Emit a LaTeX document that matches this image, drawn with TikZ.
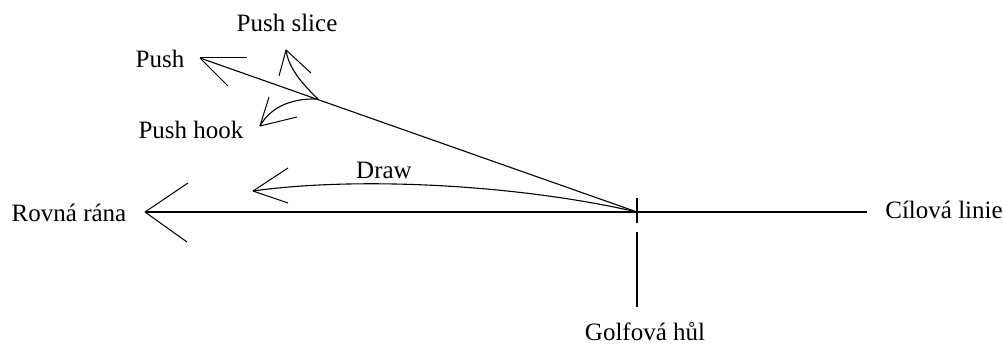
\documentclass[tikz,border=0pt]{standalone}
\usepackage{fontspec}
\setmainfont{Liberation Serif}
\usepackage{tikz}

\begin{document}
\begin{tikzpicture}[x=1pt, y=-1pt, line width=1.1pt,
    lbl/.style={inner sep=0pt, anchor=base, font=\fontsize{25}{30}\selectfont},
    barb/.style={line width=1pt}]
    \useasboundingbox (0,0) rectangle (1003,345);

    % points of the swing
    \coordinate (club) at (637,212);
    \coordinate (straight) at (145,212);
    \coordinate (lineend) at (867,212);
    \coordinate (pushtip) at (200,58);
    \coordinate (split) at (318,99);
    \coordinate (slicetip) at (286,50);
    \coordinate (hooktip) at (260,126);
    \coordinate (drawtip) at (253,191);
    \coordinate (clubtop) at (637,198);
    \coordinate (clubmid) at (637,223);
    \coordinate (shaft) at (637,232);
    \coordinate (grip) at (637,307);

    % labels
    \node (rovna) [lbl] at (69,221) {Rovná rána};
    \node (cilova) [lbl] at (944,218) {Cílová linie};
    \node (golf) [lbl] at (645,340) {Golfová hůl};
    \node (push) [lbl] at (160,67) {Push};
    \node (slice) [lbl] at (287,32) {Push slice};
    \node (hook) [lbl] at (191,138) {Push hook};
    \node (draw) [lbl] at (384,178) {Draw};

    % lines
    \draw (straight) -- (lineend);
    \draw (clubtop) -- (clubmid);
    \draw (shaft) -- (grip);
    \draw (club) -- (pushtip);
    \draw (club) .. controls (520,185) and (360,176) .. (drawtip);
    \draw (split) .. controls (298,80) and (288,65) .. (slicetip);
    \draw (split) .. controls (290,98) and (270,108) .. (hooktip);

    % open arrow heads
    \draw [barb] (straight) -- +(43,-29);
    \draw [barb] (straight) -- +(42,30);
    \draw [barb] (pushtip) -- +(47,0);
    \draw [barb] (pushtip) -- +(28,28);
    \draw [barb] (slicetip) -- +(-7,26);
    \draw [barb] (slicetip) -- +(25,23);
    \draw [barb] (hooktip) -- +(9,-29);
    \draw [barb] (hooktip) -- +(37,-9);
    \draw [barb] (drawtip) -- +(35,-23);
    \draw [barb] (drawtip) -- +(35,12);
\end{tikzpicture}
\end{document}
